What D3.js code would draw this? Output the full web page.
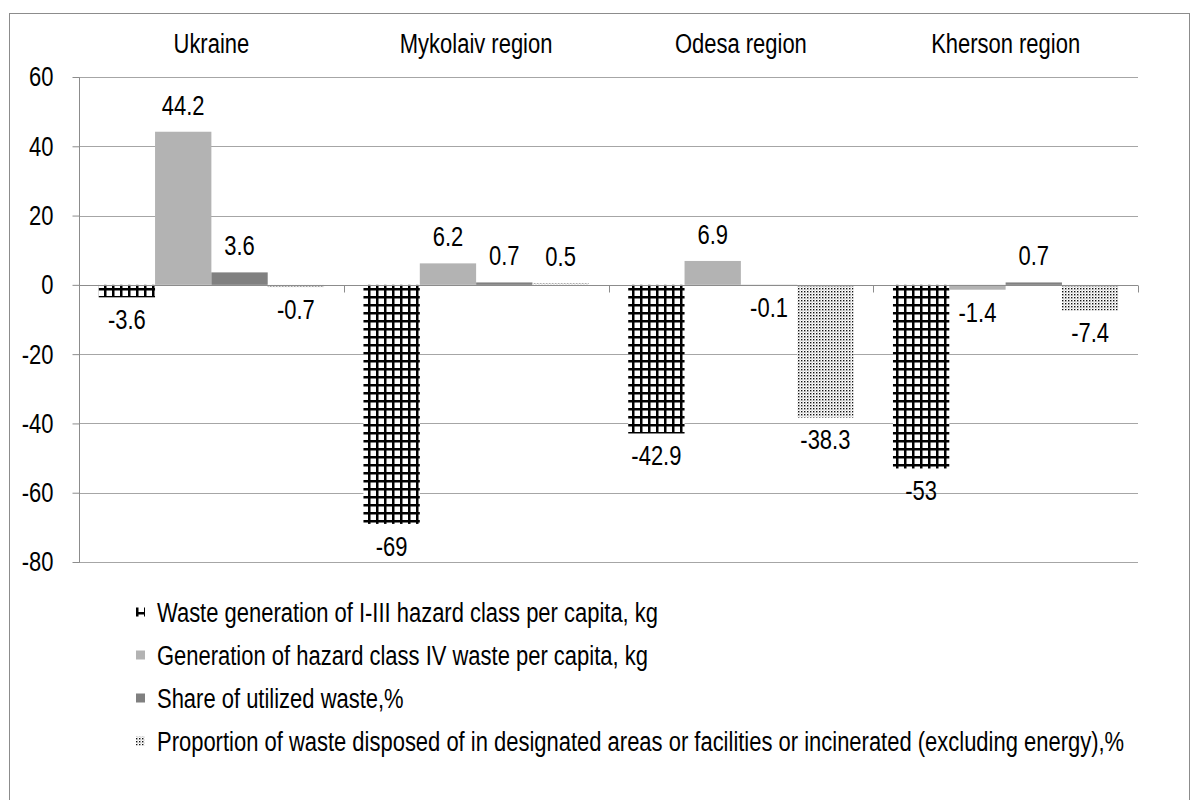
<!DOCTYPE html>
<html><head><meta charset="utf-8">
<script src="https://cdn.jsdelivr.net/npm/d3@7"></script>
<style>body{margin:0;background:#fff}svg{display:block}text{font-family:"Liberation Sans",Arial,sans-serif;fill:#000}</style>
</head><body>
<svg id="c" width="1200" height="800"></svg>
<script>
const categories = ["Ukraine", "Mykolaiv region", "Odesa region", "Kherson region"];
const seriesNames = [
  "Waste generation of I-III hazard class per capita, kg",
  "Generation of hazard class IV waste per capita, kg",
  "Share of utilized waste,%",
  "Proportion of waste disposed of in designated areas or facilities or incinerated (excluding energy),%"
];
const wasteI_III = [-3.6, -69, -42.9, -53];
const wasteIV = [44.2, 6.2, 6.9, -1.4];
const utilized = [3.6, 0.7, -0.1, 0.7];
const disposed = [-0.7, 0.5, -38.3, -7.4];
const yTicks = [60, 40, 20, 0, -20, -40, -60, -80];

const seriesValues = [wasteI_III, wasteIV, utilized, disposed];
const fills = ["url(#grid)", "#b3b3b3", "#808080", "url(#dots)"];
const FS = 28, SX = 0.785;
const place = (x, yy) => `translate(${x},${yy}) scale(${SX},1)`;

const svg = d3.select("#c");
const defs = svg.append("defs");
const pg = defs.append("pattern").attr("id","grid").attr("patternUnits","userSpaceOnUse")
  .attr("width",8).attr("height",8);
pg.append("rect").attr("width",8).attr("height",8).attr("fill","#fff");
pg.append("rect").attr("x",0).attr("y",0).attr("width",2.5).attr("height",8).attr("fill","#000");
pg.append("rect").attr("x",0).attr("y",0).attr("width",8).attr("height",2.5).attr("fill","#000");
const pd = defs.append("pattern").attr("id","dots").attr("patternUnits","userSpaceOnUse")
  .attr("width",3).attr("height",3);
pd.append("rect").attr("width",3).attr("height",3).attr("fill","#fff");
pd.append("rect").attr("x",0).attr("y",0).attr("width",1.4).attr("height",1.4).attr("fill","#111");
pd.append("rect").attr("x",1.5).attr("y",1.5).attr("width",1).attr("height",1).attr("fill","#9a9a9a");

// outer border
svg.append("rect").attr("x",9.5).attr("y",13.5).attr("width",1180).attr("height",820)
  .attr("fill","none").attr("stroke","#8c8c8c").attr("stroke-width",1);

const pLeft = 79, pRight = 1138, pTop = 77, pBottom = 562;
const y = d3.scaleLinear().domain([-80, 60]).range([pBottom, pTop]);
const x0 = d3.scaleBand().domain(categories).range([pLeft, pRight]).paddingInner(0).paddingOuter(0);
const x1 = d3.scaleBand().domain(d3.range(4)).range([0, x0.bandwidth()]).paddingOuter(0.35).paddingInner(0);

// gridlines
svg.append("g").selectAll("line").data(yTicks.filter(d => d !== 0)).join("line")
  .attr("x1", pLeft).attr("x2", pRight).attr("y1", d => Math.round(y(d))+0.5).attr("y2", d => Math.round(y(d))+0.5)
  .attr("stroke", "#a6a6a6").attr("stroke-width", 1);

// bars
const data = [];
categories.forEach((c, ci) => seriesValues.forEach((s, si) => data.push({c, si, v: s[ci]})));
svg.append("g").selectAll("rect").data(data).join("rect")
  .attr("x", d => x0(d.c) + x1(d.si))
  .attr("width", x1.bandwidth())
  .attr("y", d => Math.min(y(d.v), y(0)))
  .attr("height", d => Math.abs(y(d.v) - y(0)))
  .attr("fill", d => fills[d.si]);

// y axis
const yAxis = d3.axisLeft(y).tickValues(yTicks).tickSize(7).tickFormat(d3.format("d"));
const gy = svg.append("g").attr("transform", `translate(${pLeft+0.5},0)`).call(yAxis);
gy.select(".domain").attr("stroke", "#8c8c8c").attr("d", `M0,${Math.round(y(60))+0.5}V${Math.round(y(-80))+0.5}`);
gy.selectAll(".tick line").attr("stroke", "#8c8c8c");
gy.selectAll(".tick text").attr("x", 0).attr("transform", place(-26, 0))
  .attr("font-size", FS).attr("font-family", null).attr("fill","#000")
  .text(d => d < 0 ? "-" + Math.abs(d) : String(d));

// category axis at zero
const xAxis = d3.axisBottom(x0).tickSize(0).tickFormat("");
const gx = svg.append("g").attr("transform", `translate(0,${Math.round(y(0))+0.5})`).call(xAxis);
gx.select(".domain").attr("stroke", "#8c8c8c").attr("d", `M${pLeft},0H${pRight}`);
gx.selectAll(".tick").remove();
const bounds = categories.map(c => x0(c)).concat([pRight]);
gx.selectAll("line.b").data(bounds.slice(1)).join("line").attr("class","b")
  .attr("x1", d => Math.round(d)+0.5).attr("x2", d => Math.round(d)+0.5).attr("y1", 0).attr("y2", 7)
  .attr("stroke", "#8c8c8c");

// category labels at top
svg.append("g").selectAll("text").data(categories).join("text")
  .attr("transform", d => place(x0(d) + x0.bandwidth()/2, 43)).attr("dy", "0.35em")
  .attr("text-anchor", "middle").attr("font-size", FS).text(d => d);

// value labels
svg.append("g").selectAll("text").data(data).join("text")
  .attr("transform", d => place(x0(d.c) + x1(d.si) + x1.bandwidth()/2, d.v >= 0 ? y(d.v) - 27 : y(d.v) + 22))
  .attr("dy", "0.35em")
  .attr("text-anchor", "middle").attr("font-size", FS)
  .text(d => String(d.v));

// legend
const lg = svg.append("g").selectAll("g").data(seriesNames).join("g")
  .attr("transform", (d, i) => `translate(136,${612 + i*43})`);
lg.append("rect").attr("x", 0).attr("y", -4.5).attr("width", 9).attr("height", 9)
  .attr("fill", (d, i) => fills[i]);
lg.append("text").attr("transform", place(21, 0)).attr("dy", "0.35em").attr("font-size", FS).text(d => d);
</script>
</body></html>
